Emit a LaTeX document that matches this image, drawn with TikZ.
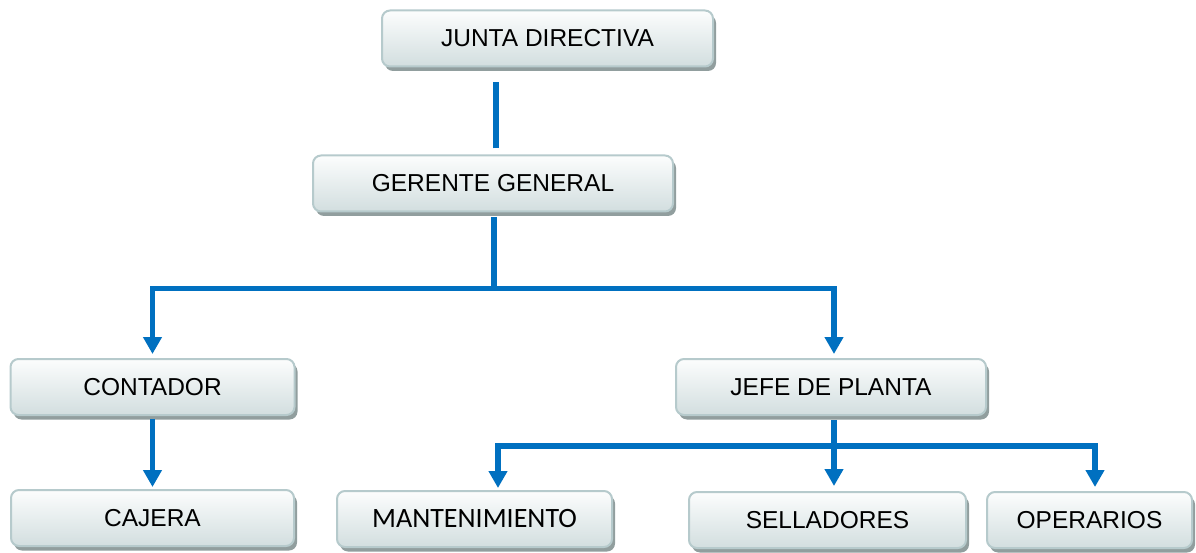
\documentclass[tikz,border=0pt]{standalone}
\usepackage{fontspec}
\setmainfont{Liberation Sans}
\newfontfamily\carl{Carlito}
\usetikzlibrary{arrows.meta,shadows}
\definecolor{linkblue}{RGB}{0,112,192}
\definecolor{boxtop}{RGB}{252,253,253}
\definecolor{boxbot}{RGB}{210,222,223}
\definecolor{boxline}{RGB}{182,202,204}
\definecolor{shadowc}{RGB}{145,158,158}
\begin{document}
\begin{tikzpicture}[x=1pt,y=-1pt,
  orgbox/.style={draw=boxline, line width=2pt, rounded corners=8pt,
    top color=boxtop, bottom color=boxbot, inner sep=0pt, outer sep=0pt,
    minimum height=56pt, font=\fontsize{24.5}{28}\selectfont,
    drop shadow={shadow xshift=3pt, shadow yshift=-4.5pt, fill=shadowc, opacity=1}},
  conn/.style={draw=linkblue, line width=5.5pt, line join=miter},
  arr/.style={conn, -{Triangle[width=18pt,length=17pt]}}]
\useasboundingbox (0,0) rectangle (1196,553);

\node[orgbox, minimum width=331pt] (jd) at (547.5,38.5) {JUNTA DIRECTIVA};
\node[orgbox, minimum width=360pt] (gg) at (493,183.5) {GERENTE GENERAL};
\node[orgbox, minimum width=284pt] (co) at (152.5,387) {CONTADOR};
\node[orgbox, minimum width=310pt] (jp) at (831,387) {JEFE DE PLANTA};
\node[orgbox, minimum width=283pt] (ca) at (152.5,518) {CAJERA};
\node[orgbox, minimum width=275pt, font=\carl\fontsize{28}{32}\selectfont] (ma) at (474.5,519) {MANTENIMIENTO};
\node[orgbox, minimum width=277pt] (se) at (827.5,520) {SELLADORES};
\node[orgbox, minimum width=205pt] (op) at (1089.5,520) {OPERARIOS};

\draw[conn] ([xshift=3pt,yshift=7pt]gg.north) -- ++(0,-66);
\draw[arr] ([xshift=1pt,yshift=-6pt]gg.south) -- ++(0,71) -| ([yshift=5pt]co.north);
\draw[arr] ([xshift=1pt,yshift=-6pt]gg.south) -- ++(0,71) -| ([xshift=3pt,yshift=5pt]jp.north);
\draw[arr] ([yshift=-4pt]co.south) -- ([yshift=3pt]ca.north);
\draw[arr] ([xshift=3pt,yshift=-5pt]jp.south) -- ++(0,26) -| ([xshift=23.5pt,yshift=3pt]ma.north);
\draw[arr] ([xshift=3pt,yshift=-5pt]jp.south) -- ([xshift=6.5pt,yshift=6pt]se.north);
\draw[arr] ([xshift=3pt,yshift=-5pt]jp.south) -- ++(0,26) -| ([xshift=5.5pt,yshift=5pt]op.north);
\end{tikzpicture}
\end{document}
